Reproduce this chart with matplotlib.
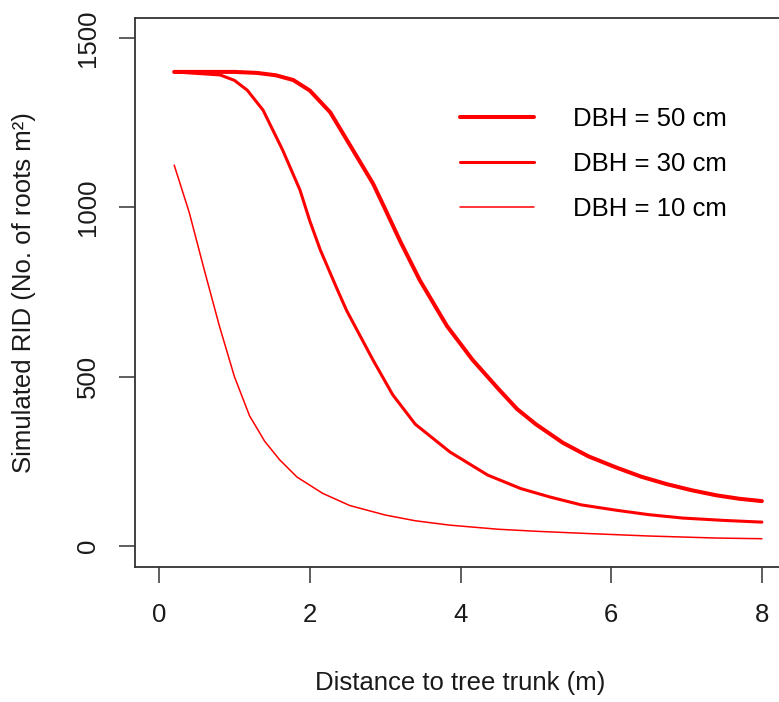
import matplotlib
matplotlib.use("Agg")
import matplotlib.pyplot as plt

plt.rcParams['font.family'] = ['Liberation Sans', 'DejaVu Sans']

# values
dist_50 = [0.2, 1.0, 1.3, 1.55, 1.78, 2.0, 2.27, 2.53, 2.84, 3.0, 3.2, 3.46,
           3.82, 4.16, 4.5, 4.75, 5.0, 5.36, 5.7, 6.07, 6.4, 6.74, 7.07, 7.4,
           7.7, 8.0]
rid_50 = [1400, 1400, 1397, 1390, 1376, 1345, 1281, 1185, 1070, 995, 900, 785,
          650, 550, 465, 405, 360, 305, 265, 232, 205, 183, 165, 150,
          140, 133]

dist_30 = [0.2, 0.81, 1.0, 1.17, 1.38, 1.64, 1.87, 2.0, 2.14, 2.37, 2.49,
           2.84, 3.1, 3.4, 3.86, 4.36, 4.8, 5.19, 5.6, 6.07, 6.5, 6.95, 7.5,
           8.0]
rid_30 = [1400, 1391, 1375, 1346, 1287, 1169, 1051, 960, 874, 755, 695,
          549, 447, 360, 278, 210, 170, 145, 122, 106, 93, 83, 76,
          71]

dist_10 = [0.2, 0.4, 0.6, 0.8, 1.0, 1.2, 1.4, 1.6, 1.83, 2.17, 2.53, 3.0,
           3.4, 3.86, 4.5, 5.0, 5.62, 6.5, 7.4, 8.0]
rid_10 = [1125, 985, 815, 650, 500, 385, 310, 255, 204, 156, 120, 92,
          75, 62, 50, 44, 38, 30, 24, 22]

series = [
    {"label": "DBH = 50 cm", "x": dist_50, "y": rid_50, "lw": 2.9},
    {"label": "DBH = 30 cm", "x": dist_30, "y": rid_30, "lw": 2.2},
    {"label": "DBH = 10 cm", "x": dist_10, "y": rid_10, "lw": 1.1},
]

xticks = [0, 2, 4, 6, 8]
yticks = [0, 500, 1000, 1500]

fs = 18.5
fig = plt.figure(figsize=(7.79, 7.02), dpi=100)
# right edge of the box falls outside the picture, as in the reference
ax = fig.add_axes([135 / 779, 135.5 / 702, 651 / 779, 548.8 / 702])

for s in series:
    ax.plot(s["x"], s["y"], color="#ff0000", lw=s["lw"], label=s["label"],
            solid_capstyle="round", solid_joinstyle="round")

ax.set_xlim(-0.32, 8.32)
ax.set_ylim(-60, 1560)
ax.set_xticks(xticks)
ax.set_yticks(yticks)
ax.tick_params(axis='both', length=11.5, width=1.1, color="#333333",
               labelsize=fs, labelcolor="#1a1a1a")
ax.tick_params(axis='x', pad=15)
ax.tick_params(axis='y', pad=14)
for lab in ax.get_yticklabels():
    lab.set_rotation(90)
    lab.set_va('center')

for sp in ax.spines.values():
    sp.set_linewidth(1.3)
    sp.set_color("#333333")

ax.set_xlabel("Distance to tree trunk (m)", fontsize=fs, color="#1a1a1a")
ax.set_ylabel("Simulated RID (No. of roots m²)", fontsize=fs, color="#1a1a1a")
ax.xaxis.set_label_coords(0.5, -0.19)
ax.yaxis.set_label_coords(-0.152, 0.5)

ax.legend(loc='center left', bbox_to_anchor=(0.499, 0.733), frameon=False,
          fontsize=fs, handlelength=2.9, handletextpad=1.5, labelspacing=0.81,
          borderpad=0, borderaxespad=0)

fig.savefig("out.png", dpi=100)
